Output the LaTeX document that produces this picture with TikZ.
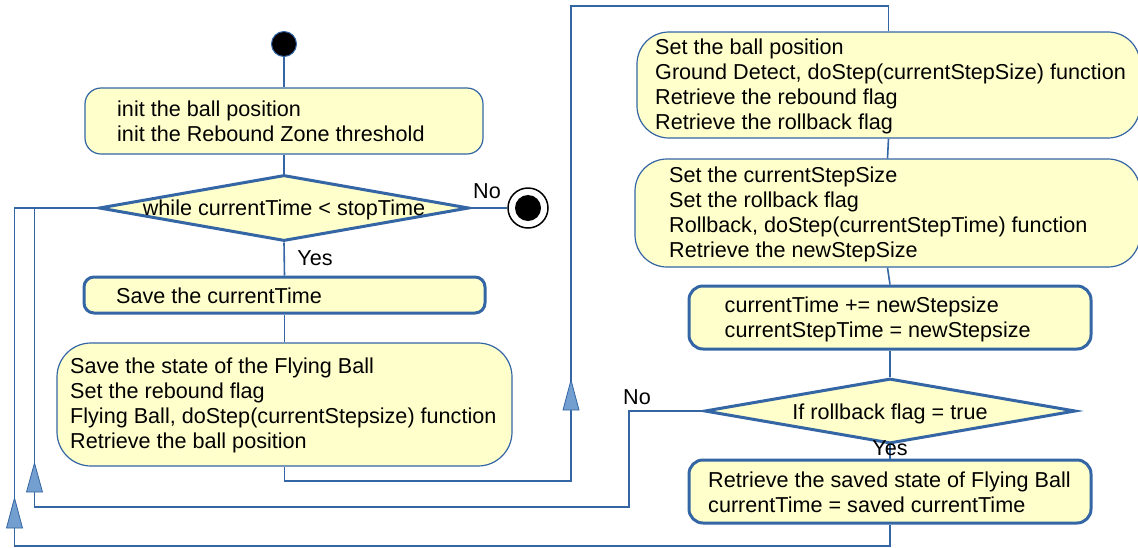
\documentclass[tikz,border=0pt]{standalone}
\usepackage{fontspec}
\setmainfont{Liberation Sans}
\usetikzlibrary{shapes.geometric,calc}
\definecolor{lineblue}{HTML}{3465A4}
\definecolor{arrowblue}{HTML}{729FCF}
\definecolor{boxfill}{HTML}{FFFFCC}
\begin{document}
\begin{tikzpicture}[x=1pt,y=-1pt,
  font=\fontsize{21.6}{25}\selectfont,
  conn/.style={draw=lineblue, line width=1.6pt},
  thinbox/.style={draw=lineblue, fill=boxfill, line width=1.2pt, rectangle, inner sep=0pt},
  thickbox/.style={draw=lineblue, fill=boxfill, line width=3pt, rectangle, inner sep=0pt, rounded corners=14pt},
  txt/.style={align=left, inner sep=0pt, anchor=west},
  decision/.style={diamond, draw=lineblue, fill=boxfill, line width=3pt, inner sep=0pt},
  lbl/.style={inner sep=0pt},
  tri/.style={fill=arrowblue, draw=lineblue, line width=0.8pt}]
\useasboundingbox (0,0) rectangle (1138,547);

% nodes
\node[circle, fill=black, draw=lineblue, line width=1pt, minimum size=25pt, inner sep=0pt] (start) at (284,44) {};
\node[thinbox, rounded corners=16pt, minimum width=398pt, minimum height=66pt] (b1) at (284,121) {};
\node[txt] (t1) at (117,121) {init the ball position\\init the Rebound Zone threshold};
\node[decision, minimum width=370pt, minimum height=66pt] (d1) at (284,208) {\makebox[0pt]{\raisebox{-7.5pt}[0pt][0pt]{while currentTime < stopTime}}};
\node[circle, draw=black, fill=white, line width=1.5pt, minimum size=40pt, inner sep=0pt] (end) at (528,208) {};
\node[circle, fill=black, minimum size=26pt, inner sep=0pt] (endin) at (end) {};
\node[thickbox, rounded corners=10pt, minimum width=401pt, minimum height=36pt] (b2) at (284.5,295) {};
\node[txt] (t2) at (116,295.5) {Save the currentTime};
\node[thinbox, rounded corners=34pt, minimum width=455pt, minimum height=123pt] (b3) at (284.5,404.5) {};
\node[txt] (t3) at (70,405.5) {Save the state of the Flying Ball\\Set the rebound flag\\Flying Ball, doStep(currentStepsize) function\\Retrieve the ball position};

\node[thinbox, rounded corners=32pt, minimum width=503pt, minimum height=106pt] (b4) at (888.5,85) {};
\node[txt] (t4) at (655,86.5) {Set the ball position\\Ground Detect, doStep(currentStepSize) function\\Retrieve the rebound flag\\Retrieve the rollback flag};
\node[thinbox, rounded corners=32pt, minimum width=505pt, minimum height=108pt] (b5) at (887.5,213) {};
\node[txt] (t5) at (669,214) {Set the currentStepSize\\Set the rollback flag\\Rollback, doStep(currentStepTime) function\\Retrieve the newStepSize};
\node[thickbox, minimum width=402pt, minimum height=63pt] (b6) at (890,317.5) {};
\node[txt] (t6) at (724.5,319) {currentTime += newStepsize\\currentStepTime = newStepsize};
\node[decision, minimum width=371pt, minimum height=65pt] (d2) at (890,411) {\makebox[0pt]{\raisebox{-8.5pt}[0pt][0pt]{If rollback flag = true}}};
\node[thickbox, minimum width=402pt, minimum height=63pt] (b7) at (890,491.5) {};
\node[txt] (t7) at (708,492.5) {Retrieve the saved state of Flying Ball\\currentTime = saved currentTime};

% labels
\node[lbl] (no1) at (487,191) {No};
\node[lbl] (yes1) at (315,258) {Yes};
\node[lbl] (no2) at (637,397) {No};

% route points
\coordinate (p1) at (571,481);
\coordinate (p2) at (571,6);
\coordinate (q1) at (629,507);
\coordinate (q2) at (34.5,507);
\coordinate (q3) at (34.5,208);
\coordinate (r1) at (14.5,546);
\coordinate (r2) at (14.5,208);

% connectors
\draw[conn] (start.south) -- (b1.north);
\draw[conn] (b1.south) -- (d1.north);
\draw[conn] (d1.south) -- (b2.north);
\draw[conn] (b2.south) -- (b3.north);
\draw[conn] (d1.east) -- (end.west);
\draw[conn] (b3.south) |- (p1) -- (p2) -| (b4.north);
\draw[conn] (b4.south) -- (b5.north);
\draw[conn] (b5.south) -- (b6.north);
\draw[conn] (b6.south) -- (d2.north);
\draw[conn] (d2.south) -- (b7.north);
\draw[conn] (d2.west) -| (q1) -- (q2) -- (q3);
\draw[conn] (b7.south) |- (r1) -- (r2) -- (d1.west);

\node[lbl] (yes2) at (890,448) {Yes};

% arrowheads
\draw[tri] (563,410) -- (571,380) -- (579,410) -- cycle;
\draw[tri] (26.5,492) -- (34.5,463) -- (42.5,492) -- cycle;
\draw[tri] (6.5,528) -- (14.5,498) -- (22.5,528) -- cycle;
\end{tikzpicture}
\end{document}
